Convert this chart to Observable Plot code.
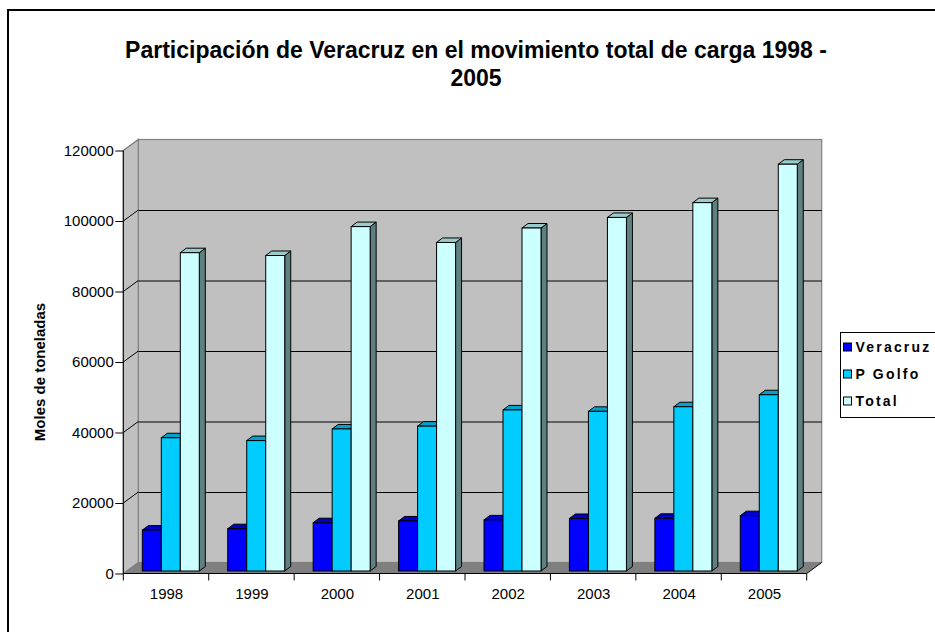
<!DOCTYPE html>
<html>
<head>
<meta charset="utf-8">
<script src="https://cdn.jsdelivr.net/npm/d3@7"></script>
<script src="https://cdn.jsdelivr.net/npm/@observablehq/plot@0.6"></script>
<style>
  html, body { margin: 0; padding: 0; background: #fff; overflow: hidden; }
  #chart { width: 935px; height: 632px; }
</style>
</head>
<body>
<div id="chart"></div>
<script>
// ---------- data ----------
const years = ["1998", "1999", "2000", "2001", "2002", "2003", "2004", "2005"];
const seriesNames = ["Veracruz", "P Golfo", "Total"];
const veracruz = [11600, 12000, 13700, 14200, 14500, 14900, 14950, 15700];
const pGolfo   = [37800, 37000, 40300, 41100, 45700, 45300, 46600, 50000];
const total    = [90300, 89500, 97700, 93200, 97300, 100300, 104500, 115400];
const yTicks = [0, 20000, 40000, 60000, 80000, 100000, 120000];
const titleLines = ["Participación de Veracruz en el movimiento total de carga 1998 -", "2005"];
const yTitle = "Moles de toneladas";

const frontColors = ["#0000ff", "#00ccff", "#ccffff"];
const topColors   = ["#0000cc", "#00a3cc", "#99cccc"];
const sideColors  = ["#000099", "#007a99", "#5f8080"];

const seriesValues = [veracruz, pGolfo, total];
const rows = [];
seriesValues.forEach((vals, s) => vals.forEach((v, j) => rows.push({year: years[j], series: seriesNames[s], s, value: v})));

// ---------- geometry constants (pixels) ----------
const DX = 15, DY = -11;         // wall depth
const BAR_OFF = 19, BAR_W = 19;  // bar offset inside band and width
const BDX = 6, BDY = -4.5;       // bar depth
const BAR_LIFT = -2.5;           // bars sit slightly behind the front edge
const FONT = "'Liberation Sans', Arial, Helvetica, sans-serif";

function el(tag, attrs, parent) {
  const e = document.createElementNS("http://www.w3.org/2000/svg", tag);
  for (const k in attrs) e.setAttribute(k, attrs[k]);
  if (parent) parent.appendChild(e);
  return e;
}
const pts = a => a.map(p => p.join(",")).join(" ");
function bw(x) { return x.bandwidth ? x.bandwidth() : 85.4; }

// walls and floor
function walls(index, scales) {
  const {x, y} = scales;
  const g = el("g", {});
  const x0 = x(years[0]), x1 = x(years[years.length - 1]) + bw(x);
  const y0 = y(0), yT = y(120000);
  el("rect", {x: x0 + DX, y: yT + DY, width: x1 - x0, height: y0 - yT, fill: "#c0c0c0", stroke: "#808080", "stroke-width": 1.2}, g);
  el("polygon", {points: pts([[x0, yT], [x0 + DX, yT + DY], [x0 + DX, y0 + DY], [x0, y0]]), fill: "#c0c0c0", stroke: "#808080", "stroke-width": 1.2}, g);
  el("polygon", {points: pts([[x0, y0], [x1, y0], [x1 + DX, y0 + DY], [x0 + DX, y0 + DY]]), fill: "#808080", stroke: "none"}, g);
  el("line", {x1: x1, y1: y0, x2: x1 + DX, y2: y0 + DY, stroke: "#000", "stroke-width": 1}, g);
  for (const t of yTicks) {
    if (t === 0 || t === 120000) continue;
    const yy = y(t);
    el("line", {x1: x0, y1: yy, x2: x0 + DX, y2: yy + DY, stroke: "#000", "stroke-width": 1}, g);
  }
  return g;
}

// top + side faces of the bars of one series
function barFaces(s) {
  return (index, scales) => {
    const {x, y} = scales;
    const g = el("g", {stroke: "#000", "stroke-width": 1, "stroke-linejoin": "miter"});
    seriesValues[s].forEach((v, j) => {
      const xl = x(years[j]) + BAR_OFF + BAR_W * s, xr = xl + BAR_W;
      const yt = y(v) + BAR_LIFT, yb = y(0) + BAR_LIFT;
      el("polygon", {points: pts([[xr, yt], [xr + BDX, yt + BDY], [xr + BDX, yb + BDY], [xr, yb]]), fill: sideColors[s]}, g);
      el("polygon", {points: pts([[xl, yt], [xr, yt], [xr + BDX, yt + BDY], [xl + BDX, yt + BDY]]), fill: topColors[s]}, g);
    });
    return g;
  };
}

// axes lines and x category ticks
function axes(index, scales) {
  const {x, y} = scales;
  const g = el("g", {stroke: "#000", "stroke-width": 1});
  const x0 = x(years[0]), x1 = x(years[years.length - 1]) + bw(x);
  const y0 = y(0), yT = y(120000);
  el("line", {x1: x0, y1: yT, x2: x0 + DX, y2: yT + DY, stroke: "#808080"}, g);
  el("line", {x1: x0, y1: yT, x2: x0, y2: y0}, g);
  el("line", {x1: x0, y1: y0, x2: x1, y2: y0}, g);
  for (let j = 0; j <= years.length; j++) {
    const xx = j < years.length ? x(years[j]) : x1;
    el("line", {x1: xx, y1: y0, x2: xx, y2: y0 + 7}, g);
  }
  return g;
}

// title, axis title, legend, outer border
function overlay() {
  const g = el("g", {"font-family": FONT, "text-anchor": "start"});
  el("rect", {x: 8, y: 10, width: 960, height: 700, fill: "none", stroke: "#000", "stroke-width": 2}, g);
  titleLines.forEach((line, i) => {
    const t = el("text", {x: 476, y: 58.2 + i * 28, "text-anchor": "middle", "font-size": 23, "font-weight": "bold", fill: "#000"}, g);
    t.textContent = line;
  });
  const yt = el("text", {transform: "translate(44.5,372) rotate(-90)", "text-anchor": "middle", "font-size": 15, "font-weight": "bold", fill: "#000"}, g);
  yt.textContent = yTitle;
  el("rect", {x: 840.5, y: 332.5, width: 120, height: 85, fill: "#fff", stroke: "#000", "stroke-width": 1}, g);
  seriesNames.forEach((name, i) => {
    const cy = 347 + i * 27;
    el("rect", {x: 843.5, y: cy - 4, width: 8, height: 8, fill: frontColors[i], stroke: "#000", "stroke-width": 1}, g);
    const t = el("text", {x: 855.5, y: cy + 5, "text-anchor": "start", "font-size": 14, "font-weight": "bold", "letter-spacing": 2.2, fill: "#000"}, g);
    t.textContent = name;
  });
  return g;
}

const marks = [walls, Plot.ruleY(yTicks.filter(t => t > 0 && t < 120000), {dx: DX, dy: DY, stroke: "#000", strokeWidth: 1})];
seriesNames.forEach((name, s) => {
  marks.push(barFaces(s));
  marks.push(Plot.barY(rows.filter(r => r.s === s), {
    x: "year", y: "value", fill: frontColors[s], stroke: "#000", strokeWidth: 1,
    insetLeft: BAR_OFF + BAR_W * s, insetRight: 85.425 - (BAR_OFF + BAR_W * s) - BAR_W, dy: BAR_LIFT
  }));
});
marks.push(axes);
marks.push(Plot.axisY(yTicks, {tickSize: 8, tickPadding: 2, fontSize: 15, tickFormat: d => String(d), stroke: "#000", fill: "#000", label: null}));
marks.push(Plot.text(years, {x: d => d, frameAnchor: "bottom", dy: 20.5, fontSize: 15, fill: "#000", lineAnchor: "middle"}));
marks.push(overlay);

const chart = Plot.plot({
  width: 935,
  height: 632,
  marginLeft: 123.3,
  marginRight: 935 - 806.7,
  marginTop: 150.5,
  marginBottom: 632 - 573.5,
  x: {type: "band", domain: years, padding: 0, round: false, axis: null, label: null},
  y: {domain: [0, 120000], axis: null, label: null},
  style: {fontFamily: FONT, background: "#fff", color: "#000"},
  marks
});
document.getElementById("chart").appendChild(chart);
</script>
</body>
</html>
